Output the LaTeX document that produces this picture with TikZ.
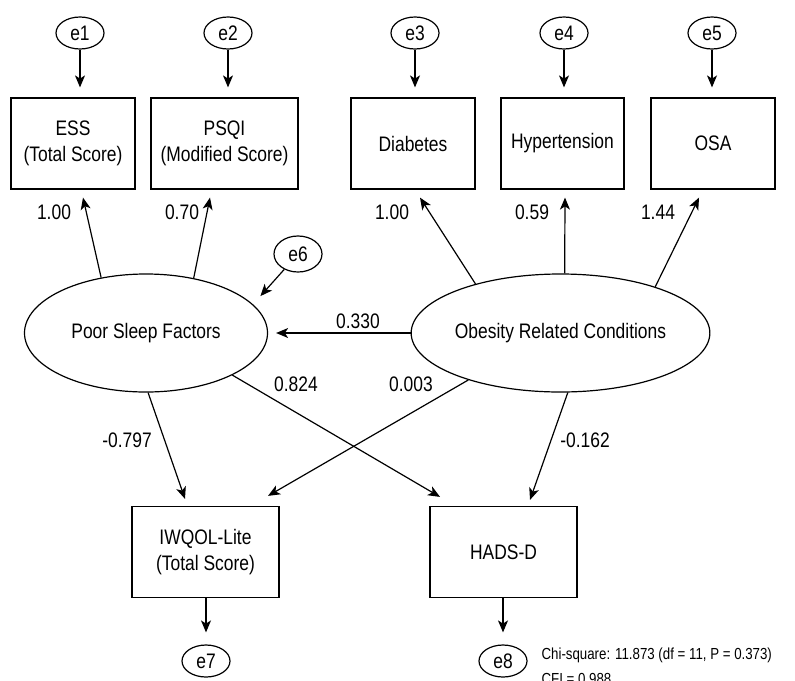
\documentclass[tikz,border=0pt]{standalone}
\usepackage{fontspec}
\setmainfont{Liberation Sans}[FakeStretch=0.83]
\usetikzlibrary{shapes.geometric,arrows.meta,calc}

\tikzset{
    obs/.style={draw, rectangle, minimum width=#1, minimum height=45.5pt, inner sep=0pt, align=center},
    err/.style={draw, ellipse, minimum width=24pt, minimum height=16pt, inner sep=0pt},
    lat/.style={draw, ellipse, minimum width=121.5pt, minimum height=59pt, inner sep=0pt},
    lab/.style={inner sep=0pt},
    pfad/.style={-{Stealth[length=6pt, width=5pt, inset=1.6pt]}}
}

\begin{document}
\begin{tikzpicture}[x=0.5pt, y=-0.5pt, line width=0.6pt, font=\fontsize{10.5}{13}\selectfont]

    \useasboundingbox (0,0) rectangle (795,680);
    \clip (0,0) rectangle (795,680);

    %Fehlerterme oben
    \node[err] (e1) at (80,33)  {e1};
    \node[err] (e2) at (228,33) {e2};
    \node[err] (e3) at (415,33) {e3};
    \node[err] (e4) at (564,33) {e4};
    \node[err] (e5) at (712,33) {e5};

    %Indikatoren
    \node[obs=62pt]   (ess)  at (73,143.5)    {ESS\\(Total Score)};
    \node[obs=73.5pt] (psqi) at (224.5,143.5) {PSQI\\(Modified Score)};
    \node[obs=62pt]   (diab) at (413,143.5)   {Diabetes};
    \node[obs=61.5pt] (hyp)  at (562.5,143.5) {Hypertension};
    \node[obs=62pt]   (osa)  at (713,143.5)   {OSA};

    %Latente Variablen
    \node[lat] (psf) at (146,333)   {Poor Sleep Factors};
    \node[lat] (orc) at (560.5,333) {Obesity Related Conditions};
    \node[err, minimum height=18pt] (e6) at (298,254) {e6};

    %Outcomes
    \node[obs=73.5pt] (iwqol) at (205.5,552) {IWQOL-Lite\\(Total Score)};
    \node[obs=73.5pt] (hads)  at (503.5,552) {HADS-D};
    \node[err] (e7) at (206,661) {e7};
    \node[err] (e8) at (503,661) {e8};

    %Fehler -> Indikatoren
    \foreach \e/\b in {e1/ess, e2/psqi, e3/diab, e4/hyp, e5/osa}
        \draw[pfad] (\e.south) -- ($(\e.south |- \b.north)+(0,-10)$);
    \draw[pfad, shorten >=5.5pt] (e6) -- (psf.15);
    \draw[pfad] (iwqol.south -| e7.north) -- ($(e7.north)+(0,-12)$);
    \draw[pfad] (hads.south -| e8.north) -- ($(e8.north)+(0,-12)$);

    %Ladungen
    \draw[pfad] (psf.129) -- ($(ess.south)+(10,8)$);
    \draw[pfad] (psf.49)  -- ($(psqi.south)+(-14.5,8)$);
    \draw[pfad] (orc.150) -- ($(diab.south)+(7,8)$);
    \draw[pfad] (orc.86)  -- ($(hyp.south)+(2.5,8)$);
    \draw[pfad] (orc.26)  -- ($(osa.south)+(-14,8)$);

    \node[lab] (l1) at (54,212)  {1.00};
    \node[lab] (l2) at (182,212) {0.70};
    \node[lab] (l3) at (392,212) {1.00};
    \node[lab] (l4) at (532,212) {0.59};
    \node[lab] (l5) at (658,212) {1.44};

    %Strukturpfade
    \draw[pfad, shorten >=4pt] (orc.west) -- (psf.east);
    \draw[pfad] (psf.272) -- ($(iwqol.north)+(-20.5,-7)$);
    \draw[pfad] (psf.334) -- ($(hads.north)+(-63.5,-9)$);
    \draw[pfad] (orc.207) -- ($(iwqol.north)+(62.5,-10)$);
    \draw[pfad] (orc.277) -- ($(hads.north)+(26.5,-6)$);

    \node[lab] (k1) at (358,321)   {0.330};
    \node[lab] (k2) at (296,384)   {0.824};
    \node[lab] (k3) at (411,384)   {0.003};
    \node[lab] (k4) at (127,440)   {-0.797};
    \node[lab] (k5) at (585,440)   {-0.162};

    %Modellguete
    \node[lab, anchor=north west, align=left, font=\fontsize{8}{12.5}\selectfont] (fit) at (541,647)
        {Chi-square: 11.873 (df = 11, P = 0.373)\\CFI = 0.988};

\end{tikzpicture}
\end{document}
